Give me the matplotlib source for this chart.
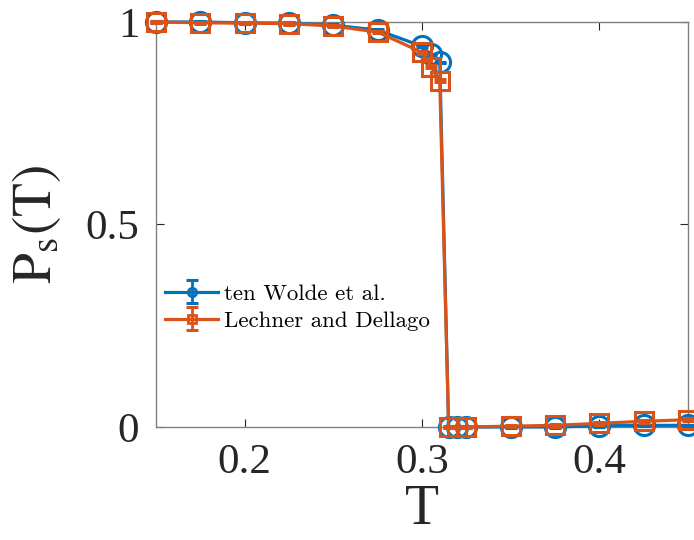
import numpy as np
import matplotlib
matplotlib.use("Agg")
import matplotlib.pyplot as plt
from matplotlib.lines import Line2D
from matplotlib.legend_handler import HandlerErrorbar

plt.rcParams['mathtext.fontset'] = 'stix'
plt.rcParams['font.family'] = ['Liberation Serif', 'DejaVu Serif']

# Temperatures and survival probabilities
T_wolde = [0.15, 0.175, 0.2, 0.225, 0.25, 0.275, 0.30, 0.305, 0.31,
           0.315, 0.32, 0.325, 0.35, 0.375, 0.40, 0.425, 0.45]
P_wolde = [1.0, 1.0, 0.998, 0.997, 0.992, 0.98, 0.94, 0.92, 0.90,
           0.0, 0.0, 0.0, 0.0, 0.0, 0.003, 0.004, 0.004]
err_wolde = [0.002] * len(T_wolde)

T_lechner = [0.15, 0.175, 0.2, 0.225, 0.25, 0.275, 0.30, 0.305, 0.31,
             0.315, 0.32, 0.325, 0.35, 0.375, 0.40, 0.425, 0.45]
P_lechner = [1.0, 0.998, 0.997, 0.996, 0.99, 0.975, 0.925, 0.89, 0.855,
             0.0, 0.0, 0.0, 0.002, 0.004, 0.009, 0.014, 0.018]
err_lechner = [0.003] * len(T_lechner)

xticks = [0.2, 0.3, 0.4]
yticks = [0, 0.5, 1]
yticklabels = ['0', '0.5', '1']

blue = '#0072BD'
orange = '#D95319'

fig = plt.figure(figsize=(6.94, 5.40), dpi=100)
ax = fig.add_axes([0.2248, 0.2093, 0.7666, 0.75])

c1 = ax.errorbar(T_wolde, P_wolde, yerr=err_wolde, color=blue, lw=2.3,
                 marker='o', ms=14.5, mew=2.2, mfc='none', capsize=4,
                 elinewidth=2.0, capthick=2.0, label='ten Wolde et al.',
                 zorder=3)
c2 = ax.errorbar(T_lechner, P_lechner, yerr=err_lechner, color=orange, lw=2.3,
                 marker='s', ms=13.5, mew=2.2, mfc='none', capsize=4,
                 elinewidth=2.0, capthick=2.0, label='Lechner and Dellago',
                 zorder=4)
for cont in (c1, c2):
    for art in cont.get_children():
        art.set_clip_on(False)

ax.set_xlim(0.15, 0.45)
ax.set_ylim(0, 1)
ax.set_xticks(xticks)
ax.set_xticklabels([f'{v:g}' for v in xticks])
ax.set_yticks(yticks)
ax.set_yticklabels(yticklabels)
ax.tick_params(direction='in', length=6, width=0.8, labelsize=31,
               top=True, right=True, pad=12, colors='#262626',
               labelcolor='#262626')
for s in ax.spines.values():
    s.set_color('#808080')
    s.set_linewidth(1.0)

ax.set_xlabel('T', fontsize=40, color='#262626', labelpad=1)
ax.set_ylabel(r'$\mathrm{P_s(T)}$', fontsize=40, color='#262626', labelpad=16)

leg = ax.legend(loc='center left', bbox_to_anchor=(0.0, 0.296), frameon=False,
                prop={'family': 'cmr10', 'size': 16.5}, handlelength=2.3,
                handletextpad=0.28, labelspacing=0.3, borderaxespad=0.0,
                borderpad=0.4,
                handler_map={type(c1): HandlerErrorbar(xerr_size=0.5)})
# smaller markers in the legend keys
for ln in leg.findobj(Line2D):
    if ln.get_marker() in ('o', 's'):
        ln.set_markersize(6)
        ln.set_markeredgewidth(2.0)

fig.savefig('out.png', dpi=100)
